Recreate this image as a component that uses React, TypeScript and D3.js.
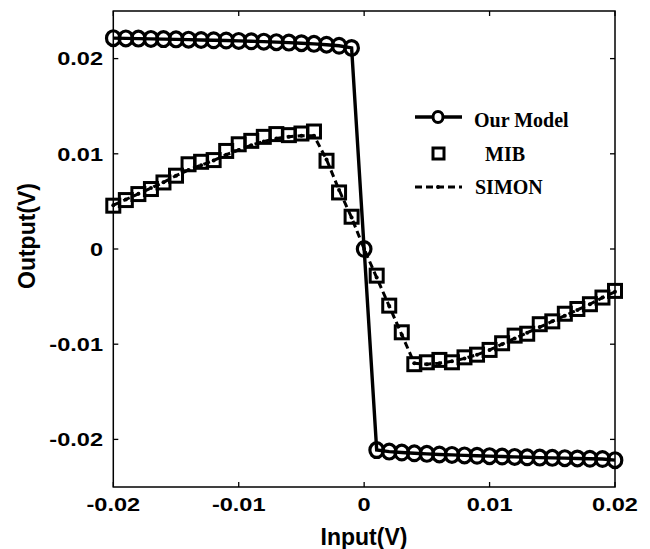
import React from "react";
import * as d3 from "d3";

const inputV = [
  -0.02, -0.019, -0.018, -0.017, -0.016, -0.015, -0.014, -0.013, -0.012, -0.011,
  -0.01, -0.009, -0.008, -0.007, -0.006, -0.005, -0.004, -0.003, -0.002, -0.001,
  0,
  0.001, 0.002, 0.003, 0.004, 0.005, 0.006, 0.007, 0.008, 0.009, 0.01,
  0.011, 0.012, 0.013, 0.014, 0.015, 0.016, 0.017, 0.018, 0.019, 0.02,
];

const ourModel = [
  0.02215, 0.02212, 0.0221, 0.02207, 0.02205, 0.02202, 0.02199, 0.02196, 0.02193, 0.0219,
  0.02186, 0.02182, 0.02178, 0.02173, 0.02168, 0.02162, 0.02155, 0.02146, 0.02135, 0.02112,
  0,
  -0.02112, -0.02128, -0.02138, -0.02146, -0.02152, -0.02158, -0.02163, -0.02168, -0.02172, -0.02176,
  -0.0218, -0.02184, -0.02188, -0.02191, -0.02194, -0.02197, -0.022, -0.02203, -0.02206, -0.02218,
];

// MIB has no visible sample at 0 V (null = no marker)
const mib: (number | null)[] = [
  0.00455, 0.00514, 0.00577, 0.0063, 0.00699, 0.0077, 0.0089, 0.00916, 0.00934, 0.0103,
  0.011, 0.01136, 0.01178, 0.01207, 0.01196, 0.01213, 0.01234, 0.00927, 0.00594, 0.00339,
  null,
  -0.0028, -0.00595, -0.00875, -0.0121, -0.0119, -0.01165, -0.0119, -0.01138, -0.0111, -0.0106,
  -0.0099, -0.0091, -0.0089, -0.0079, -0.0076, -0.0068, -0.0063, -0.0058, -0.0051, -0.0044,
];

const simon = [
  0.0046, 0.0052, 0.0058, 0.0064, 0.007, 0.0077, 0.0083, 0.0088, 0.0093, 0.0099,
  0.0104, 0.0109, 0.0113, 0.0116, 0.0118, 0.0119, 0.0119, 0.0094, 0.0062, 0.0033,
  0,
  -0.003, -0.006, -0.009, -0.012, -0.0121, -0.012, -0.0118, -0.0115, -0.0111, -0.0106,
  -0.01, -0.0094, -0.0088, -0.0082, -0.0076, -0.007, -0.0064, -0.0058, -0.0051, -0.0045,
];

const xTicks = [-0.02, -0.01, 0, 0.01, 0.02];
const xTickLabels = ["-0.02", "-0.01", "0", "0.01", "0.02"];
const yTicks = [0.02, 0.01, 0, -0.01, -0.02];
const yTickLabels = ["0.02", "0.01", "0", "-0.01", "-0.02"];

const legendLabels = ["Our Model", "MIB", "SIMON"];

const L = 113.3, R = 615, T = 11, B = 487;

export default function App() {
  const x = d3.scaleLinear().domain([-0.02, 0.02]).range([L, R]);
  const y = d3.scaleLinear().domain([-0.025, 0.025]).range([B, T]);

  const pts = (vals: number[]) => inputV.map((v, i) => [x(v), y(vals[i])] as [number, number]);
  const line = d3.line<[number, number]>();

  const ourPts = pts(ourModel);
  const simPts = pts(simon);
  const mibPts = inputV
    .map((v, i) => (mib[i] === null ? null : ([x(v), y(mib[i] as number)] as [number, number])))
    .filter((p) => p !== null) as [number, number][];

  const sans = "'Liberation Sans', Arial, sans-serif";
  const serif = "'Liberation Serif', 'Times New Roman', serif";
  const tk = 5;

  return (
    <svg width={650} height={549} style={{ position: "absolute", left: 0, top: 0, background: "#fff" }}>
      <rect x={0} y={0} width={650} height={549} fill="#fff" />
      <rect x={L} y={T} width={R - L} height={B - T} fill="none" stroke="#000" strokeWidth={1.5} />
      {xTicks.map((t, i) => (
        <g key={"xt" + i}>
          <line x1={x(t)} x2={x(t)} y1={B} y2={B - tk} stroke="#000" strokeWidth={1.3} />
          <line x1={x(t)} x2={x(t)} y1={T} y2={T + tk} stroke="#000" strokeWidth={1.3} />
          <text
            transform={`translate(${x(t)},${511}) scale(1.24,1)`}
            textAnchor="middle"
            fontFamily={sans}
            fontWeight="bold"
            fontSize={19}
            fill="#000"
          >
            {xTickLabels[i]}
          </text>
        </g>
      ))}
      {yTicks.map((t, i) => (
        <g key={"yt" + i}>
          <line x1={L} x2={L + tk} y1={y(t)} y2={y(t)} stroke="#000" strokeWidth={1.3} />
          <line x1={R} x2={R - tk} y1={y(t)} y2={y(t)} stroke="#000" strokeWidth={1.3} />
          <text
            transform={`translate(${103},${y(t) + 6.8}) scale(1.24,1)`}
            textAnchor="end"
            fontFamily={sans}
            fontWeight="bold"
            fontSize={19}
            fill="#000"
          >
            {yTickLabels[i]}
          </text>
        </g>
      ))}
      <text x={364} y={545} textAnchor="middle" fontFamily={sans} fontWeight="bold" fontSize={23} fill="#000">
        Input(V)
      </text>
      <text
        transform={`translate(35,236) rotate(-90)`}
        textAnchor="middle"
        fontFamily={sans}
        fontWeight="bold"
        fontSize={23}
        fill="#000"
      >
        Output(V)
      </text>

      {/* SIMON */}
      <path d={line(simPts) || ""} fill="none" stroke="#000" strokeWidth={3} strokeDasharray="7,4" />
      {simPts.map((p, i) => (
        <circle key={"s" + i} cx={p[0]} cy={p[1]} r={2} fill="#000" />
      ))}
      {/* MIB */}
      {mibPts.map((p, i) => (
        <rect key={"m" + i} x={p[0] - 6.5} y={p[1] - 6.5} width={13} height={13} fill="none" stroke="#000" strokeWidth={3} />
      ))}
      {/* Our Model */}
      <path d={line(ourPts) || ""} fill="none" stroke="#000" strokeWidth={3.4} />
      {ourPts.map((p, i) => (
        <ellipse key={"o" + i} cx={p[0]} cy={p[1]} rx={6.8} ry={7.4} fill="none" stroke="#000" strokeWidth={3.2} />
      ))}

      {/* legend */}
      <g>
        <line x1={415} x2={462} y1={117} y2={117} stroke="#000" strokeWidth={3.4} />
        <ellipse cx={438} cy={117} rx={5} ry={5.5} fill="#fff" stroke="#000" strokeWidth={3} />
        <text x={474} y={127} fontFamily={serif} fontWeight="bold" fontSize={20} fill="#000">
          {legendLabels[0]}
        </text>
        <rect x={433} y={148} width={11} height={11} fill="none" stroke="#000" strokeWidth={3} />
        <text x={485} y={161} fontFamily={serif} fontWeight="bold" fontSize={20} fill="#000">
          {legendLabels[1]}
        </text>
        <line x1={415} x2={462} y1={187} y2={187} stroke="#000" strokeWidth={3} strokeDasharray="7,4" />
        <circle cx={438} cy={187} r={2} fill="#000" />
        <text x={475} y={194} fontFamily={serif} fontWeight="bold" fontSize={20} fill="#000">
          {legendLabels[2]}
        </text>
      </g>
    </svg>
  );
}
